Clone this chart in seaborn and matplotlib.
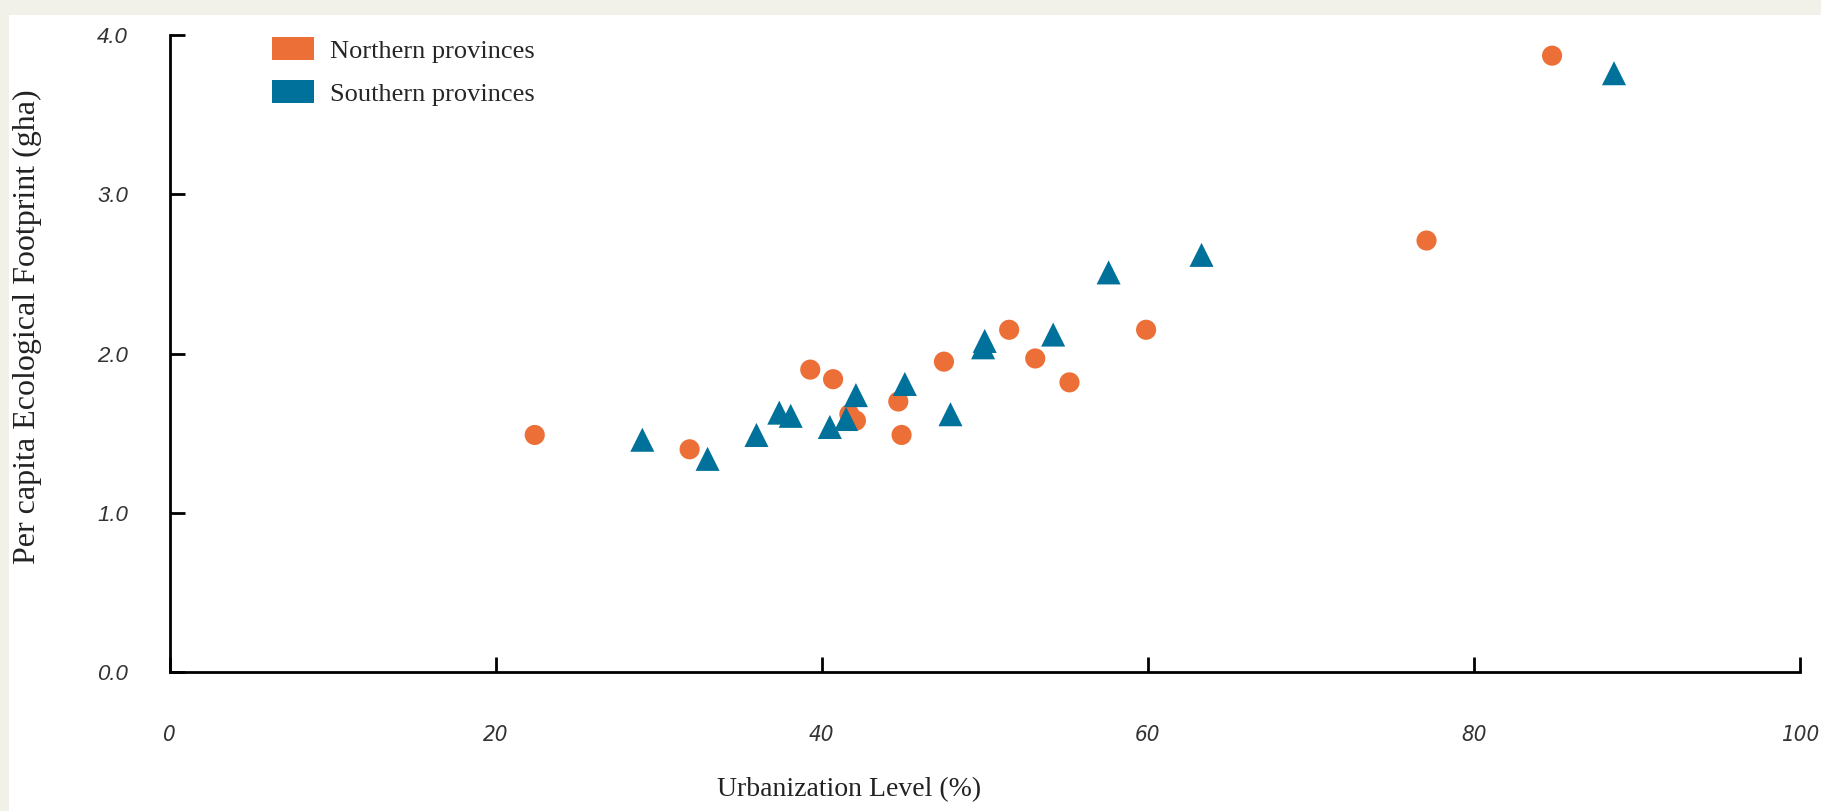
import numpy as np
import pandas as pd
import seaborn as sns
import matplotlib.pyplot as plt
from matplotlib.patches import Patch, Rectangle

sns.set_theme(style="white")
plt.rcParams['font.family'] = ['Liberation Serif', 'DejaVu Serif']

# Data
north_urban = [22.4, 31.9, 39.3, 40.7, 41.7, 42.1, 44.7, 44.9, 47.5, 51.5, 53.1, 55.2, 59.9, 77.1, 84.8]
north_ef = [1.49, 1.40, 1.90, 1.84, 1.62, 1.58, 1.70, 1.49, 1.95, 2.15, 1.97, 1.82, 2.15, 2.71, 3.87]
south_urban = [29.0, 33.0, 36.0, 37.4, 38.1, 40.5, 41.5, 42.1, 45.1, 47.9, 50.0, 49.9, 54.2, 57.6, 63.3, 88.6]
south_ef = [1.46, 1.34, 1.49, 1.63, 1.61, 1.54, 1.59, 1.74, 1.81, 1.62, 2.08, 2.04, 2.12, 2.51, 2.62, 3.76]
groups = ["Northern provinces", "Southern provinces"]
colors = {"Northern provinces": "#EC6F37", "Southern provinces": "#00719A"}
markers = {"Northern provinces": "o", "Southern provinces": "^"}
xticks = [0, 20, 40, 60, 80, 100]
yticks = [0.0, 1.0, 2.0, 3.0, 4.0]

df = pd.DataFrame({
    "urban": north_urban + south_urban,
    "ef": north_ef + south_ef,
    "region": [groups[0]] * len(north_urban) + [groups[1]] * len(south_urban),
})

fig = plt.figure(figsize=(18.21, 8.11), dpi=100)
fig.patch.set_facecolor("#f1f1e9")
# white panel behind the chart
fig.patches.append(Rectangle((9 / 1821, 0), 1, 1 - 15 / 811, transform=fig.transFigure,
                             facecolor="white", edgecolor="none", zorder=-5))
ax = fig.add_axes([0.0931, 0.1709, 0.8953, 0.786])
ax.set_zorder(2)
ax.set_facecolor("white")

sns.scatterplot(data=df, x="urban", y="ef", hue="region", style="region",
                palette=colors, markers=markers, size="region",
                sizes={groups[0]: 210, groups[1]: 300},
                linewidth=0, legend=False, ax=ax)

ax.set_xlim(0, 100)
ax.set_ylim(0, 4.0)
ax.set_xticks(xticks)
ax.set_yticks(yticks)
ax.set_yticklabels([f"{v:.1f}" for v in yticks])
for s in ["top", "right"]:
    ax.spines[s].set_visible(False)
for s in ["left", "bottom"]:
    ax.spines[s].set_color("black")
    ax.spines[s].set_linewidth(2)
ax.tick_params(axis="both", direction="in", length=11, width=2, color="black",
               bottom=True, left=True)
ax.tick_params(axis="x", pad=38)
ax.tick_params(axis="y", pad=30)
for lab in ax.get_xticklabels():
    lab.set_family(["DejaVu Sans"])
    lab.set_stretch("condensed")
    lab.set_style("italic")
    lab.set_fontsize(16)
    lab.set_color("#333333")
for lab in ax.get_yticklabels():
    lab.set_family(["Liberation Sans", "DejaVu Sans"])
    lab.set_style("italic")
    lab.set_fontsize(16)
    lab.set_color("#333333")

ax.set_xlabel("Urbanization Level (%)", fontsize=20, color="#222222")
ax.xaxis.set_label_coords(0.4166, -0.165)
ax.set_ylabel("Per capita Ecological Footprint (gha)", fontsize=23, color="#222222")
ax.yaxis.set_label_coords(-0.0785, 0.543)

handles = [Patch(facecolor=colors[g], edgecolor="none", label=g) for g in groups]
ax.legend(handles=handles, loc="upper left", bbox_to_anchor=(248 / 1821, 1 - 13 / 811),
          bbox_transform=fig.transFigure, frameon=False, fontsize=19,
          handlelength=1.6, handleheight=1.0, handletextpad=0.6, labelspacing=0.65)

fig.savefig("out.png", dpi=100, facecolor=fig.get_facecolor())
